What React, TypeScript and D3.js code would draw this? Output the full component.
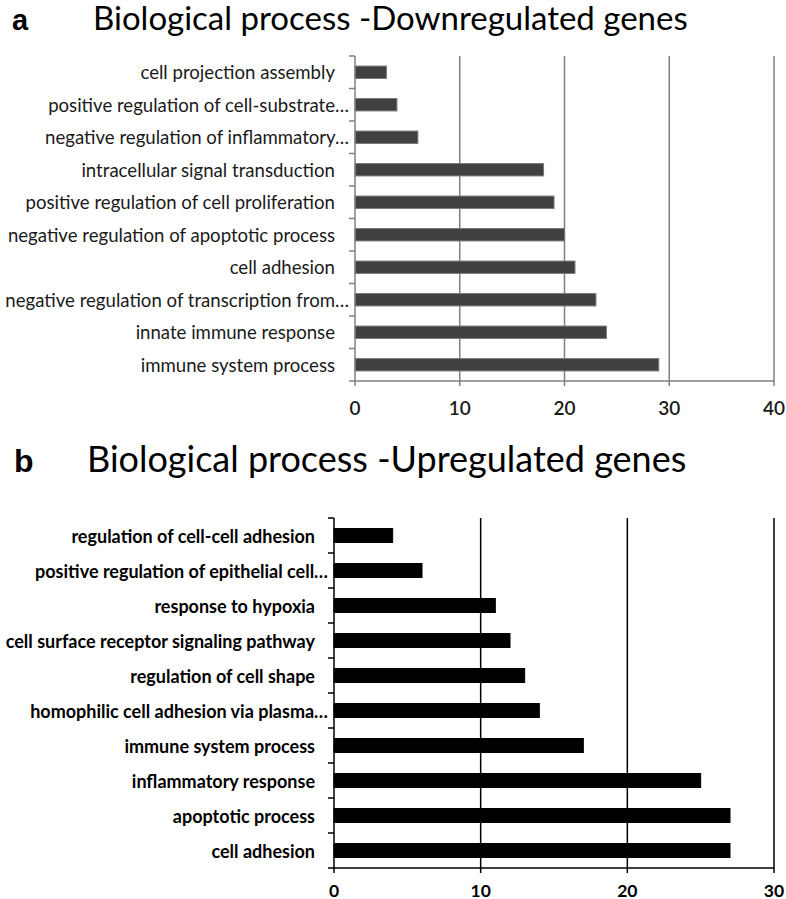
import React from "react";
import * as d3 from "d3";

const catsA = [
  "cell projection assembly",
  "positive regulation of cell-substrate…",
  "negative regulation of inflammatory…",
  "intracellular signal transduction",
  "positive regulation of cell proliferation",
  "negative regulation of apoptotic process",
  "cell adhesion",
  "negative regulation of transcription from…",
  "innate immune response",
  "immune system process",
];
const valsA = [3, 4, 6, 18, 19, 20, 21, 23, 24, 29];
const ticksA = [0, 10, 20, 30, 40];

const catsB = [
  "regulation of cell-cell adhesion",
  "positive regulation of epithelial cell…",
  "response to hypoxia",
  "cell surface receptor signaling pathway",
  "regulation of cell shape",
  "homophilic cell adhesion via plasma…",
  "immune system process",
  "inflammatory response",
  "apoptotic process",
  "cell adhesion",
];
const valsB = [4, 6, 11, 12, 13, 14, 17, 25, 27, 27];
const ticksB = [0, 10, 20, 30];

const FONT = "Lato, 'Open Sans', sans-serif";

type PanelProps = {
  letter: string;
  letterX: number;
  letterSize: number;
  title: string;
  titleY: number;
  titleX: number;
  titleSize: number;
  cats: string[];
  vals: number[];
  ticks: number[];
  x0: number;
  x1: number;
  y0: number;
  y1: number;
  padding: number;
  barColor: string;
  barStroke: string;
  gridColor: string;
  labelSize: number;
  labelWeight: string | number;
  labelEnd: number;
  labelGap: number;
  tickSize: number;
  tickWeight: string | number;
  tickLabelY: number;
  textColor: string;
};

function Panel(p: PanelProps) {
  const x = d3.scaleLinear().domain([p.ticks[0], p.ticks[p.ticks.length - 1]]).range([p.x0, p.x1]);
  const yOuter = d3.scaleBand<string>().domain(p.cats).range([p.y0, p.y1]).paddingInner(0).paddingOuter(0);
  const y = d3.scaleBand<string>().domain(p.cats).range([p.y0, p.y1]).paddingInner(p.padding).paddingOuter(p.padding / 2);
  const boundaries = d3.range(p.cats.length + 1).map((i) => p.y0 + i * yOuter.step());
  return (
    <g>
      <text x={p.letterX} y={p.titleY} fontFamily="'Liberation Sans', Arial, sans-serif" fontWeight="bold" fontSize={p.letterSize} fill="#000">
        {p.letter}
      </text>
      <text x={p.titleX} y={p.titleY} fontFamily={FONT} fontSize={p.titleSize} fill="#000">
        {p.title}
      </text>
      {p.ticks.slice(1).map((t) => (
        <line key={"g" + t} x1={x(t)} x2={x(t)} y1={p.y0} y2={p.y1} stroke={p.gridColor} strokeWidth={1.5} />
      ))}
      {p.cats.map((c, i) => (
        <rect
          key={c}
          x={x(0)}
          y={y(c)!}
          width={x(p.vals[i]) - x(0)}
          height={y.bandwidth()}
          fill={p.barColor}
          stroke={p.barStroke}
          strokeWidth={1}
        />
      ))}
      <line x1={x(0)} x2={x(0)} y1={p.y0} y2={p.y1} stroke={p.gridColor} strokeWidth={1.5} />
      <line x1={x(0)} x2={x(p.ticks[p.ticks.length - 1])} y1={p.y1} y2={p.y1} stroke={p.gridColor} strokeWidth={1.5} />
      {boundaries.map((b, i) => (
        <line key={"yt" + i} x1={x(0) - 6} x2={x(0)} y1={b} y2={b} stroke={p.gridColor} strokeWidth={1.5} />
      ))}
      {p.ticks.map((t) => (
        <line key={"xt" + t} x1={x(t)} x2={x(t)} y1={p.y1} y2={p.y1 + 5} stroke={p.gridColor} strokeWidth={1.5} />
      ))}
      {p.cats.map((c) => {
        const ell = c.endsWith("…");
        return (
          <text
            key={"l" + c}
            x={p.labelEnd - (ell ? 0 : p.labelGap)}
            y={yOuter(c)! + yOuter.step() / 2}
            textAnchor="end"
            dominantBaseline="central"
            fontFamily={FONT}
            fontSize={p.labelSize}
            fontWeight={p.labelWeight}
            fill={p.textColor}
          >
            {c}
          </text>
        );
      })}
      {p.ticks.map((t) => (
        <text
          key={"tl" + t}
          x={x(t)}
          y={p.tickLabelY}
          textAnchor="middle"
          dominantBaseline="central"
          fontFamily={FONT}
          fontSize={p.tickSize}
          fontWeight={p.tickWeight}
          fill={p.textColor}
        >
          {t}
        </text>
      ))}
    </g>
  );
}

export default function App() {
  return (
    <svg width={786} height={899} style={{ position: "absolute", left: 0, top: 0, background: "#fff" }}>
      <rect width={786} height={899} fill="#fff" />
      <Panel
        letter="a"
        letterX={12}
        letterSize={29}
        title="Biological process -Downregulated genes"
        titleX={93}
        titleY={30}
        titleSize={33}
        cats={catsA}
        vals={valsA}
        ticks={ticksA}
        x0={355}
        x1={774}
        y0={56}
        y1={381}
        padding={0.62}
        barColor="#404040"
        barStroke="#777"
        gridColor="#808080"
        labelSize={18.6}
        labelWeight={400}
        labelEnd={349}
        labelGap={14}
        tickSize={19}
        tickWeight={600}
        tickLabelY={407}
        textColor="#1a1a1a"
      />
      <Panel
        letter="b"
        letterX={14}
        letterSize={32}
        title="Biological process -Upregulated genes"
        titleX={87}
        titleY={472}
        titleSize={36}
        cats={catsB}
        vals={valsB}
        ticks={ticksB}
        x0={334}
        x1={774}
        y0={518}
        y1={868}
        padding={0.6}
        barColor="#000"
        barStroke="#000"
        gridColor="#000"
        labelSize={18}
        labelWeight={700}
        labelEnd={328}
        labelGap={13}
        tickSize={17.5}
        tickWeight={700}
        tickLabelY={890}
        textColor="#000"
      />
    </svg>
  );
}
